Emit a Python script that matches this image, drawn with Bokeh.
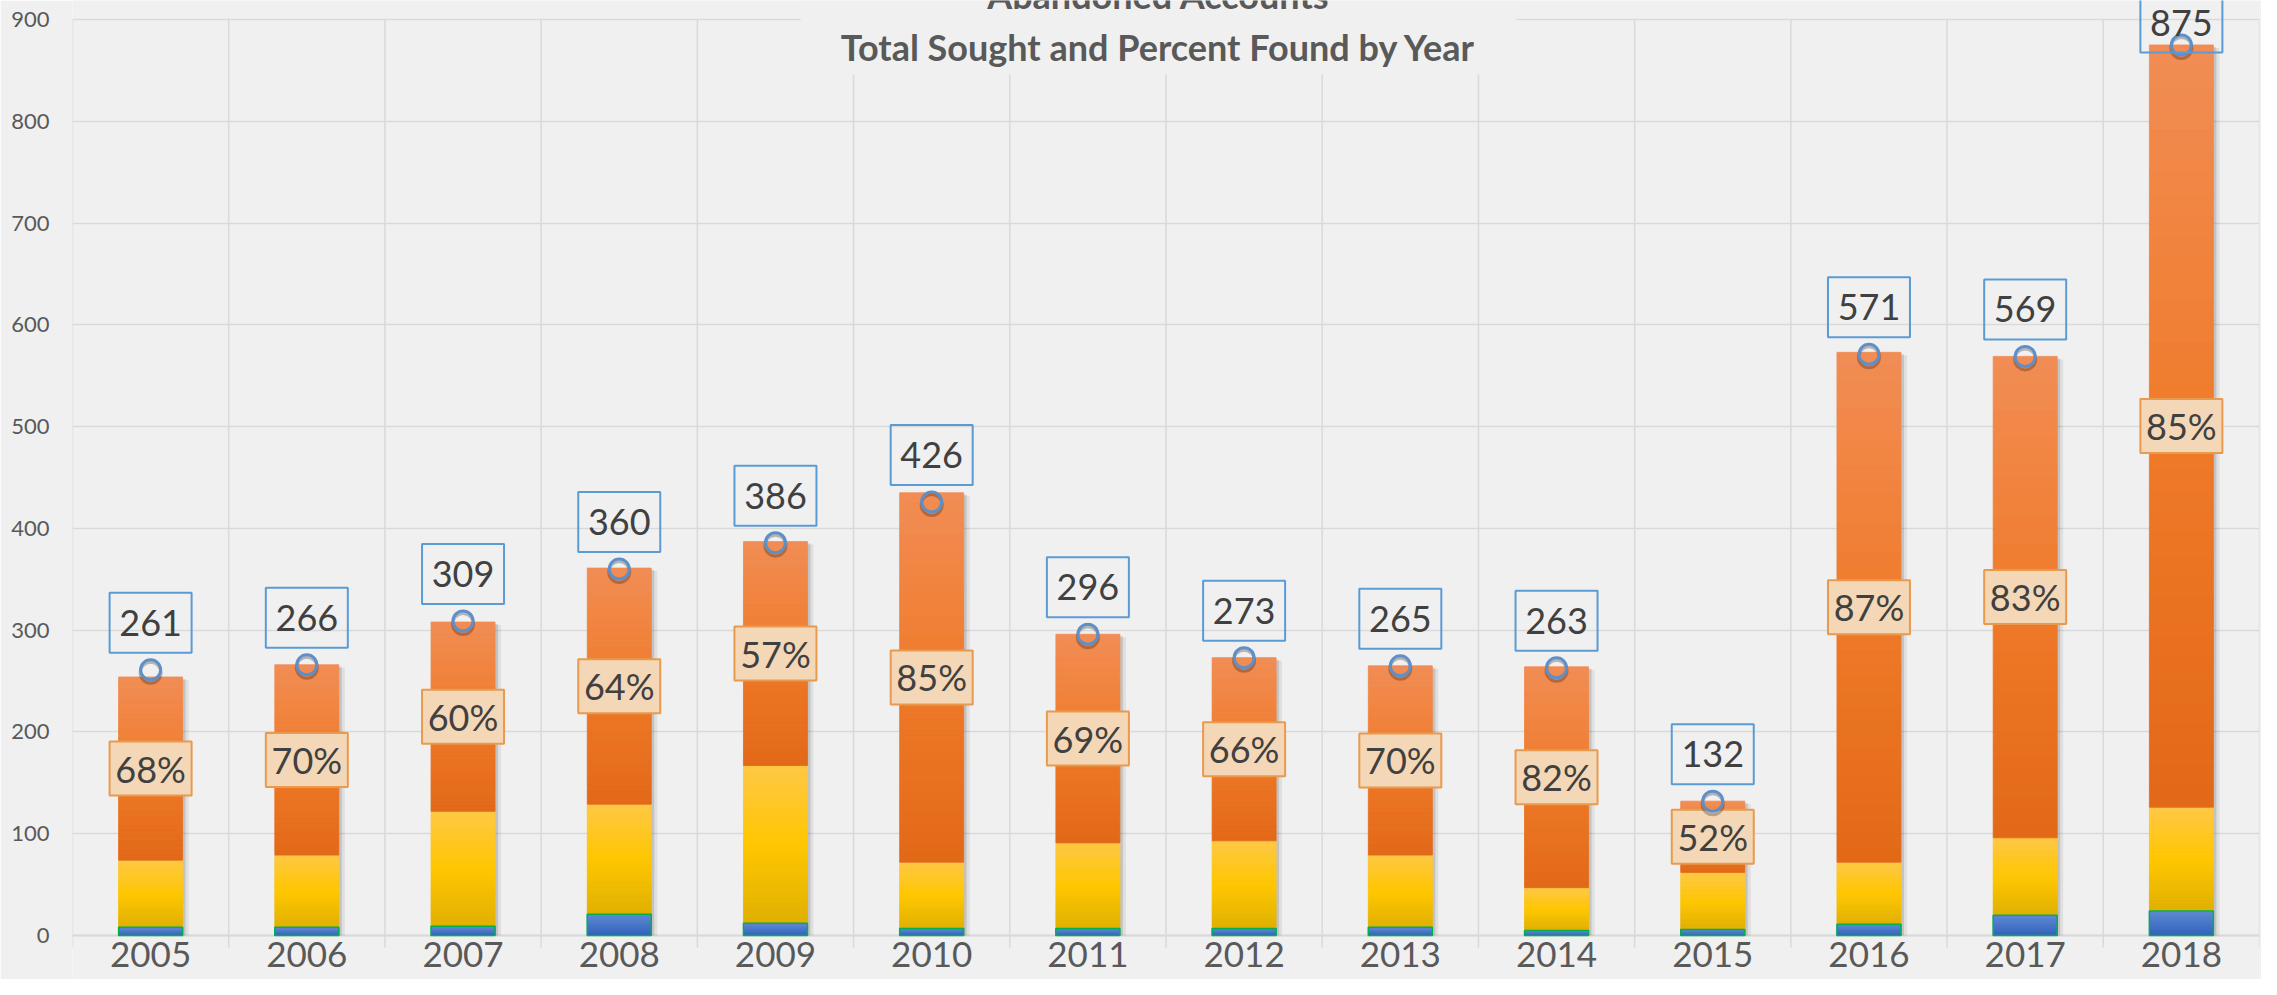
import numpy as np
from bokeh.plotting import figure
from bokeh.models import Range1d, FixedTicker
from bokeh.core.properties import value
from bokeh.embed import file_html
from bokeh.resources import INLINE

# ---------------- data ----------------
years = ["2005", "2006", "2007", "2008", "2009", "2010", "2011",
         "2012", "2013", "2014", "2015", "2016", "2017", "2018"]
blue_part = [8, 8, 9, 21, 12, 7, 7, 7, 8, 5, 6, 11, 20, 24]
yellow_part = [66, 71, 113, 108, 155, 65, 84, 86, 71, 42, 56, 61, 76, 102]
orange_part = [180, 187, 186, 232, 220, 363, 205, 180, 186, 217, 70, 501, 473, 749]
total_sought = [261, 266, 309, 360, 386, 426, 296, 273, 265, 263, 132, 571, 569, 875]
pct_found = [68, 70, 60, 64, 57, 85, 69, 66, 70, 82, 52, 87, 83, 85]
y_ticks = [0, 100, 200, 300, 400, 500, 600, 700, 800, 900]
title_lines = ["Abandoned Accounts", "Total Sought and Percent Found by Year"]

# ---------------- layout constants ----------------
W, H = 2261, 979
BORDER_L, BORDER_R = 72, 2
Y900_PX, Y0_PX = 19, 935
PPU = (Y0_PX - Y900_PX) / 900.0          # pixels per data unit on y
Y_TOP = 900 + Y900_PX / PPU
Y_BOT = -(H - Y0_PX) / PPU
XPX = (W - BORDER_L - BORDER_R) / len(years)   # pixels per category
BAR_W = 64 / XPX
BG = "#F0F0F0"
GRID = "#D9D9D9"
TXT = "#404040"
AX = "#595959"
FONT = value("Lato")


def ypx(px):
    """data y for a pixel row measured from the top of the figure"""
    return Y_TOP - px / PPU


n = len(years)
xc = np.arange(n) + 0.5
b = np.array(blue_part, float)
yl = np.array(yellow_part, float)
o = np.array(orange_part, float)
tot = np.array(total_sought, float)
seg_bottom = [np.zeros(n), b, b + yl]
seg_top = [b, b + yl, b + yl + o]
bar_top = b + yl + o

p = figure(width=W, height=H, output_backend="svg", toolbar_location=None,
           x_range=Range1d(0, n), y_range=Range1d(Y_BOT, Y_TOP),
           x_axis_location=None, background_fill_color=BG,
           border_fill_color=BG, outline_line_color=None)
p.min_border_left = BORDER_L
p.min_border_right = BORDER_R
p.min_border_top = 0
p.min_border_bottom = 0

# axes / grid
p.yaxis.ticker = FixedTicker(ticks=y_ticks)
p.yaxis.axis_line_color = None
p.yaxis.major_tick_line_color = None
p.yaxis.minor_tick_line_color = None
p.yaxis.major_tick_out = 0
p.yaxis.major_tick_in = 0
p.yaxis.major_label_standoff = 23
p.yaxis.major_label_text_font = "Lato"
p.yaxis.major_label_text_font_size = "22px"
p.yaxis.major_label_text_color = AX
p.xgrid.grid_line_color = None
p.ygrid.ticker = FixedTicker(ticks=y_ticks)
p.ygrid.grid_line_color = GRID
p.ygrid.grid_line_width = 1.5

# vertical category gridlines with tick extension below zero
edges = np.arange(n + 1)
p.segment(x0=edges, y0=np.full(n + 1, -12 / PPU), x1=edges, y1=np.full(n + 1, 900),
          line_color=GRID, line_width=1.5)
p.segment(x0=[0], y0=[0], x1=[n], y1=[0], line_color=GRID, line_width=2.2)

# title background box (hides gridlines behind the title)
p.quad(left=[(800 - BORDER_L) / XPX], right=[(1516 - BORDER_L) / XPX],
       bottom=[ypx(74)], top=[Y_TOP], fill_color=BG, line_color=None)

# bar shadows
for dx, dy, extra, alpha in [(3, 3, 6, 0.07), (2, 2, 2, 0.12)]:
    p.quad(left=xc - BAR_W / 2 + dx / XPX - extra / 2 / XPX,
           right=xc + BAR_W / 2 + dx / XPX + extra / 2 / XPX,
           bottom=np.zeros(n), top=bar_top - dy / PPU,
           fill_color="#000000", fill_alpha=alpha, line_color=None)


def hex2rgb(h):
    h = h.lstrip("#")
    return np.array([int(h[i:i + 2], 16) for i in (0, 2, 4)], float)


def grad_color(stops, t):
    # stops: list of (pos, hex) with pos 0 = bottom, 1 = top
    for (p0, c0), (p1, c1) in zip(stops[:-1], stops[1:]):
        if p0 <= t <= p1:
            f = (t - p0) / (p1 - p0) if p1 > p0 else 0
            c = hex2rgb(c0) * (1 - f) + hex2rgb(c1) * f
            return "#%02x%02x%02x" % tuple(int(round(v)) for v in c)
    return stops[-1][1]


gradients = [
    [(0.0, "#3261BE"), (1.0, "#5F8AD2")],                       # blue
    [(0.0, "#E0B000"), (0.5, "#FFC700"), (1.0, "#FFC845")],     # yellow
    [(0.0, "#E26817"), (0.5, "#F07B2A"), (1.0, "#F18D55")],     # orange
]
NB = 36
for si in range(3):
    L, R, B, T, C = [], [], [], [], []
    for i in range(n):
        lo, hi = seg_bottom[si][i], seg_top[si][i]
        for k in range(NB):
            L.append(xc[i] - BAR_W / 2)
            R.append(xc[i] + BAR_W / 2)
            B.append(lo + (hi - lo) * k / NB)
            T.append(lo + (hi - lo) * (k + 1) / NB)
            C.append(grad_color(gradients[si], (k + 0.5) / NB))
    p.quad(left=L, right=R, bottom=B, top=T, fill_color=C, line_color=C, line_width=0.8)

# thin green edge around the blue segment
p.quad(left=xc - BAR_W / 2, right=xc + BAR_W / 2, bottom=np.zeros(n), top=seg_top[0],
       fill_alpha=0, line_color="#00B050", line_width=1.5)

# percent-found labels (centre of the orange segment)
pct_y = (seg_bottom[2] + seg_top[2]) / 2
p.rect(x=xc, y=pct_y, width=82, height=54, width_units="screen", height_units="screen",
       fill_color="#F4D7B7", line_color="#E89A4E", line_width=2)
p.text(x=xc, y=pct_y, text=["%d%%" % v for v in pct_found], text_font=FONT,
       text_font_size=value("36px"), text_color=TXT, text_align="center",
       text_baseline="middle")

# total sought markers (with a soft shadow) and labels
p.scatter(x=xc, y=tot - 3 / PPU, marker="circle", size=21, fill_alpha=0,
          line_color="#000000", line_alpha=0.25, line_width=3)
p.scatter(x=xc, y=tot, marker="circle", size=20, fill_alpha=0,
          line_color="#5E8FC8", line_width=3)
lab_y = np.minimum(tot + 47 / PPU, ypx(22))
p.rect(x=xc, y=lab_y, width=82, height=60, width_units="screen", height_units="screen",
       fill_alpha=0, line_color="#5B9BD5", line_width=2)
p.text(x=xc, y=lab_y, text=[str(v) for v in total_sought], text_font=FONT,
       text_font_size=value("36px"), text_color=TXT, text_align="center",
       text_baseline="middle")

# category labels
p.text(x=xc, y=np.full(n, ypx(954)), text=years, text_font=FONT,
       text_font_size=value("35px"), text_color=AX, text_align="center",
       text_baseline="middle")

# title
tx = (1158 - BORDER_L) / XPX
p.text(x=[tx], y=[ypx(-6)], text=[title_lines[0]], text_font=FONT,
       text_font_size=value("36px"), text_font_style="bold", text_color=AX,
       text_align="center", text_baseline="middle")
p.text(x=[tx], y=[ypx(46)], text=[title_lines[1]], text_font=FONT,
       text_font_size=value("36px"), text_font_style="bold", text_color=AX,
       text_align="center", text_baseline="middle")

open("out.html", "w").write(file_html(p, INLINE))
